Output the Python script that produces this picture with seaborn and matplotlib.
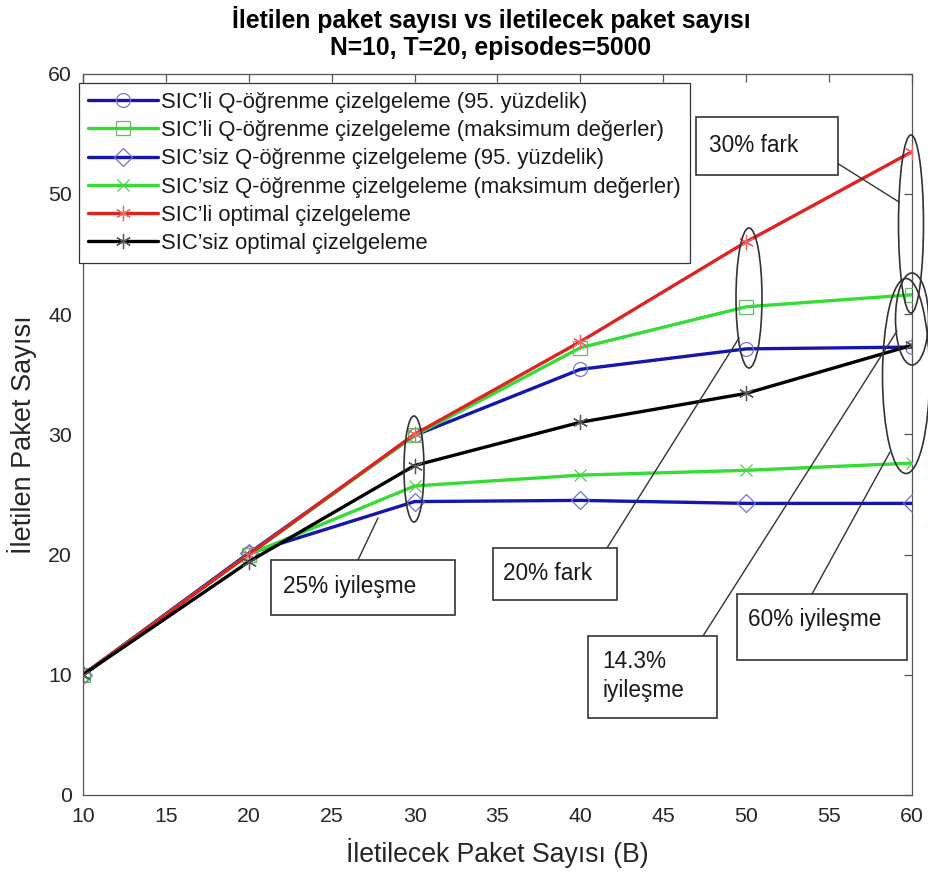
import numpy as np
import pandas as pd
import seaborn as sns
import matplotlib
matplotlib.use("Agg")
import matplotlib.pyplot as plt
from matplotlib.patches import Ellipse, Rectangle
from matplotlib.transforms import Affine2D
from matplotlib.lines import Line2D

# ---------------- data ----------------
B = [10, 20, 30, 40, 50, 60]
sic_q_p95 = [10, 20.1, 29.9, 35.4, 37.1, 37.25]
sic_q_max = [10, 20.0, 29.9, 37.2, 40.6, 41.6]
nosic_q_p95 = [10, 20.1, 24.4, 24.5, 24.25, 24.25]
nosic_q_max = [10, 20.0, 25.7, 26.6, 27.0, 27.6]
sic_opt = [10, 20.0, 30.0, 37.7, 46.0, 53.5]
nosic_opt = [10, 19.4, 27.4, 31.0, 33.4, 37.4]

labels = [
    "SIC\u2019li Q-öğrenme çizelgeleme (95. yüzdelik)",
    "SIC\u2019li Q-öğrenme çizelgeleme (maksimum değerler)",
    "SIC\u2019siz Q-öğrenme çizelgeleme (95. yüzdelik)",
    "SIC\u2019siz Q-öğrenme çizelgeleme (maksimum değerler)",
    "SIC\u2019li optimal çizelgeleme",
    "SIC\u2019siz optimal çizelgeleme",
]
xticks = [10, 15, 20, 25, 30, 35, 40, 45, 50, 55, 60]
yticks = [0, 10, 20, 30, 40, 50, 60]
title = "İletilen paket sayısı vs iletilecek paket sayısı\nN=10, T=20, episodes=5000"
xlabel = "İletilecek Paket Sayısı (B)"
ylabel = "İletilen Paket Sayısı"

# ---------------- style ----------------
sns.set_style("white")
plt.rcParams["font.family"] = ["Liberation Sans", "DejaVu Sans"]

W, H = 929, 873
fig = plt.figure(figsize=(W / 100, H / 100), dpi=100)
ax = fig.add_axes([83 / W, 1 - 795 / H, (912 - 83) / W, (795 - 73.5) / H])

series = [sic_q_p95, sic_q_max, nosic_q_p95, nosic_q_max, sic_opt, nosic_opt]
line_colors = ["#1515b0", "#33dd33", "#1515b0", "#33dd33", "#e02222", "#000000"]
mark_colors = ["#7777cc", "#66bb66", "#7070cc", "#55cc55", "#ee6666", "#555555"]
markers = ["o", "s", "D", "x", (6, 2, 0), (6, 2, 0)]
msizes = [10, 9.5, 9, 9, 11, 11]

df = pd.DataFrame({"B": B})
for i, (vals, lab) in enumerate(zip(series, labels)):
    df[lab] = vals
    sns.lineplot(data=df, x="B", y=lab, ax=ax, label=lab,
                 color=line_colors[i], linewidth=2.4,
                 marker=markers[i], markersize=msizes[i],
                 markerfacecolor="none", markeredgecolor=mark_colors[i],
                 markeredgewidth=0.9, zorder=3 + i)

ax.set_xlim(10, 60)
ax.set_ylim(0, 60)
ax.set_xticks(xticks)
ax.set_yticks(yticks)
for s in ax.spines.values():
    s.set_visible(True)
    s.set_color("#555555")
    s.set_linewidth(0.9)
ax.tick_params(axis="both", which="both", direction="in", length=6, width=0.9,
               color="#555555", labelsize=15.3, labelcolor="#262626",
               top=True, right=True)
ax.tick_params(axis="x", pad=9)
ax.tick_params(axis="y", pad=8)
ax.set_xlabel(xlabel, fontsize=19.2, color="#262626", labelpad=8)
ax.set_ylabel(ylabel, fontsize=19.5, color="#262626", labelpad=8)
ax.set_title(title, fontsize=17.8, fontweight="bold", color="black",
             pad=13, linespacing=1.2, x=0.492)
ax.grid(False)

leg = ax.legend(loc="upper left", bbox_to_anchor=(79 / W, 1 - 83 / H),
                bbox_transform=fig.transFigure, borderaxespad=0,
                fontsize=15.8, frameon=True, fancybox=False, framealpha=1,
                edgecolor="#333333", handlelength=3.2, handletextpad=0.15,
                labelspacing=0.33, borderpad=0.4, numpoints=1)
leg.get_frame().set_linewidth(0.9)
for t in leg.get_texts():
    t.set_color("#1a1a1a")

# ---------------- annotations (pixel positions) ----------------
PX = Affine2D().scale(1, -1).translate(0, H)
ec = "#333333"

ellipses = [((414, 469), 20, 106), ((749, 298), 26, 140), ((911, 224), 25, 178),
            ((912, 319), 33, 92), ((906, 376), 47, 195)]
for (c, w, h) in ellipses:
    ax.add_patch(Ellipse(c, w, h, transform=PX, fill=False, edgecolor=ec,
                         linewidth=1.2, clip_on=False, zorder=20))

boxes = [((696, 117, 838, 175), "30% fark", (709, 152)),
         ((271, 560, 455, 615), "25% iyileşme", (283, 593)),
         ((493, 548, 617, 600), "20% fark", (503, 580)),
         ((588, 636, 717, 718), "14.3%\niyileşme", (602, 668)),
         ((737, 594, 907, 660), "60% iyileşme", (748, 626))]
for (x0, y0, x1, y1), txt, (tx, ty) in boxes:
    ax.add_patch(Rectangle((x0, y0), x1 - x0, y1 - y0, transform=PX,
                           facecolor="white", edgecolor=ec, linewidth=1.2,
                           clip_on=False, zorder=21))
    for k, ln in enumerate(txt.split("\n")):
        ax.text(tx, ty + 29 * k, ln, transform=PX, fontsize=16.3,
                color="#1a1a1a", va="baseline", ha="left", zorder=22,
                clip_on=False)

connectors = [((837, 163), (899, 202)), ((358, 560), (378, 518)),
              ((607, 548), (739, 338)), ((703, 636), (897, 331)),
              ((812, 594), (890, 452))]
for (p0, p1) in connectors:
    ax.add_line(Line2D([p0[0], p1[0]], [p0[1], p1[1]], transform=PX,
                       color=ec, linewidth=1.0, clip_on=False, zorder=20))

fig.savefig("out.png", dpi=100)
